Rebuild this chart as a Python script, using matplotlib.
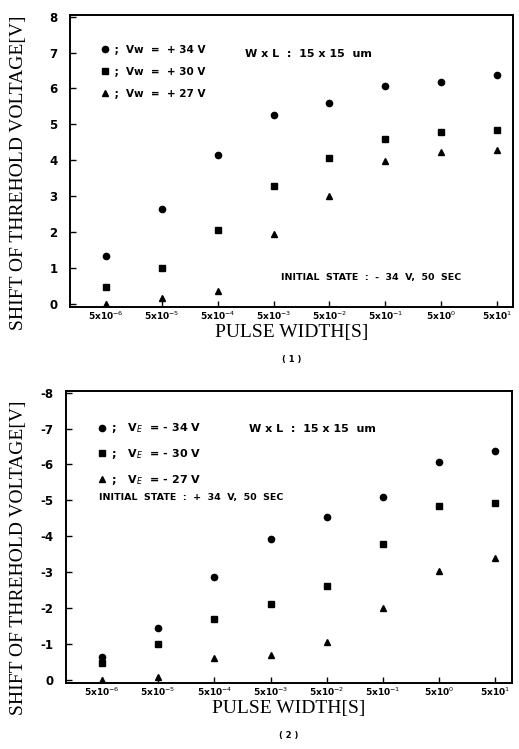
import numpy as np
import matplotlib.pyplot as plt

# pulse widths [s]
pulse = [5e-6, 5e-5, 5e-4, 5e-3, 5e-2, 5e-1, 5e0, 5e1]
tick_labels = ['5x10$^{-6}$', '5x10$^{-5}$', '5x10$^{-4}$', '5x10$^{-3}$',
               '5x10$^{-2}$', '5x10$^{-1}$', '5x10$^{0}$', '5x10$^{1}$']

# (1) write, initial state -34V 50 sec
w34 = [1.33, 2.65, 4.15, 5.25, 5.6, 6.08, 6.18, 6.38]
w30 = [0.45, 1.0, 2.05, 3.28, 4.05, 4.58, 4.78, 4.83]
w27 = [0.0, 0.15, 0.35, 1.95, 3.0, 3.97, 4.22, 4.27]

# (2) erase, initial state +34V 50 sec
e34 = [-0.62, -1.45, -2.87, -3.93, -4.53, -5.08, -6.08, -6.38]
e30 = [-0.47, -1.0, -1.68, -2.12, -2.62, -3.78, -4.83, -4.93]
e27 = [0.0, -0.08, -0.6, -0.68, -1.05, -2.0, -3.02, -3.4]

serif = 'Liberation Serif'

fig = plt.figure(figsize=(5.19, 7.49), dpi=100)
ax1 = fig.add_axes([0.135, 0.590, 0.854, 0.390])
ax2 = fig.add_axes([0.127, 0.088, 0.859, 0.390])

lx = np.log10(pulse[0]) - 0.64
rx = np.log10(pulse[-1]) + 0.29


def setup(ax, ylim, yticks, caption, ylab_xy):
    ax.set_xscale('log')
    ax.set_xlim(10**lx, 10**rx)
    ax.set_ylim(*ylim)
    ax.set_xticks(pulse)
    ax.set_xticklabels(tick_labels)
    ax.minorticks_off()
    ax.set_yticks(yticks)
    ax.set_yticklabels([str(t) for t in yticks])
    ax.tick_params(direction='in', length=4, width=1)
    ax.tick_params(axis='x', labelsize=6.5, pad=2)
    ax.tick_params(axis='y', labelsize=8.5, pad=9)
    for lab in ax.get_xticklabels() + ax.get_yticklabels():
        lab.set_fontweight('bold')
    for s in ax.spines.values():
        s.set_linewidth(1.4)
    ax.set_xlabel('PULSE WIDTH[S]', family=serif, fontsize=14, labelpad=1)
    ax.set_ylabel('SHIFT OF THREHOLD VOLTAGE[V]', family=serif, fontsize=14)
    ax.yaxis.set_label_coords(*ylab_xy)
    ax.text(0.5, -0.18, '( %s )' % caption, transform=ax.transAxes,
            ha='center', va='center', fontsize=6, fontweight='bold')


setup(ax1, (-0.1, 8.05), [0, 1, 2, 3, 4, 5, 6, 7, 8], '1', (-0.097, 0.46))
setup(ax2, (0.1, -8.05), [0, -1, -2, -3, -4, -5, -6, -7, -8], '2', (-0.088, 0.43))

kw = dict(color='black', linestyle='none')
ax1.plot(pulse, w34, marker='o', markersize=4.5, label=' ;  Vw  =  + 34 V', **kw)
ax1.plot(pulse, w30, marker='s', markersize=4.5, label=' ;  Vw  =  + 30 V', **kw)
ax1.plot(pulse, w27, marker='^', markersize=4.5, label=' ;  Vw  =  + 27 V', **kw)
ax1.legend(loc='upper left', bbox_to_anchor=(0.05, 0.93), frameon=False,
           handlelength=0.6, handletextpad=0.3, labelspacing=1.15,
           prop={'weight': 'bold', 'size': 7.5})
ax1.text(0.395, 0.865, 'W x L  :  15 x 15  um', transform=ax1.transAxes,
         fontsize=8, fontweight='bold', va='center')
ax1.text(0.475, 0.10, 'INITIAL  STATE  :  -  34  V,  50  SEC', transform=ax1.transAxes,
         fontsize=6.8, fontweight='bold', va='center')

ax2.plot(pulse, e34, marker='o', markersize=4.5, label=' ;   V$_E$  = - 34 V', **kw)
ax2.plot(pulse, e30, marker='s', markersize=4.5, label=' ;   V$_E$  = - 30 V', **kw)
ax2.plot(pulse, e27, marker='^', markersize=4.5, label=' ;   V$_E$  = - 27 V', **kw)
ax2.legend(loc='upper left', bbox_to_anchor=(0.05, 0.93), frameon=False,
           handlelength=0.6, handletextpad=0.3, labelspacing=1.05,
           prop={'weight': 'bold', 'size': 8})
ax2.text(0.41, 0.87, 'W x L  :  15 x 15  um', transform=ax2.transAxes,
         fontsize=8, fontweight='bold', va='center')
ax2.text(0.075, 0.635, 'INITIAL  STATE  :  +  34  V,  50  SEC', transform=ax2.transAxes,
         fontsize=6.8, fontweight='bold', va='center')

fig.savefig('out.png', dpi=100)
